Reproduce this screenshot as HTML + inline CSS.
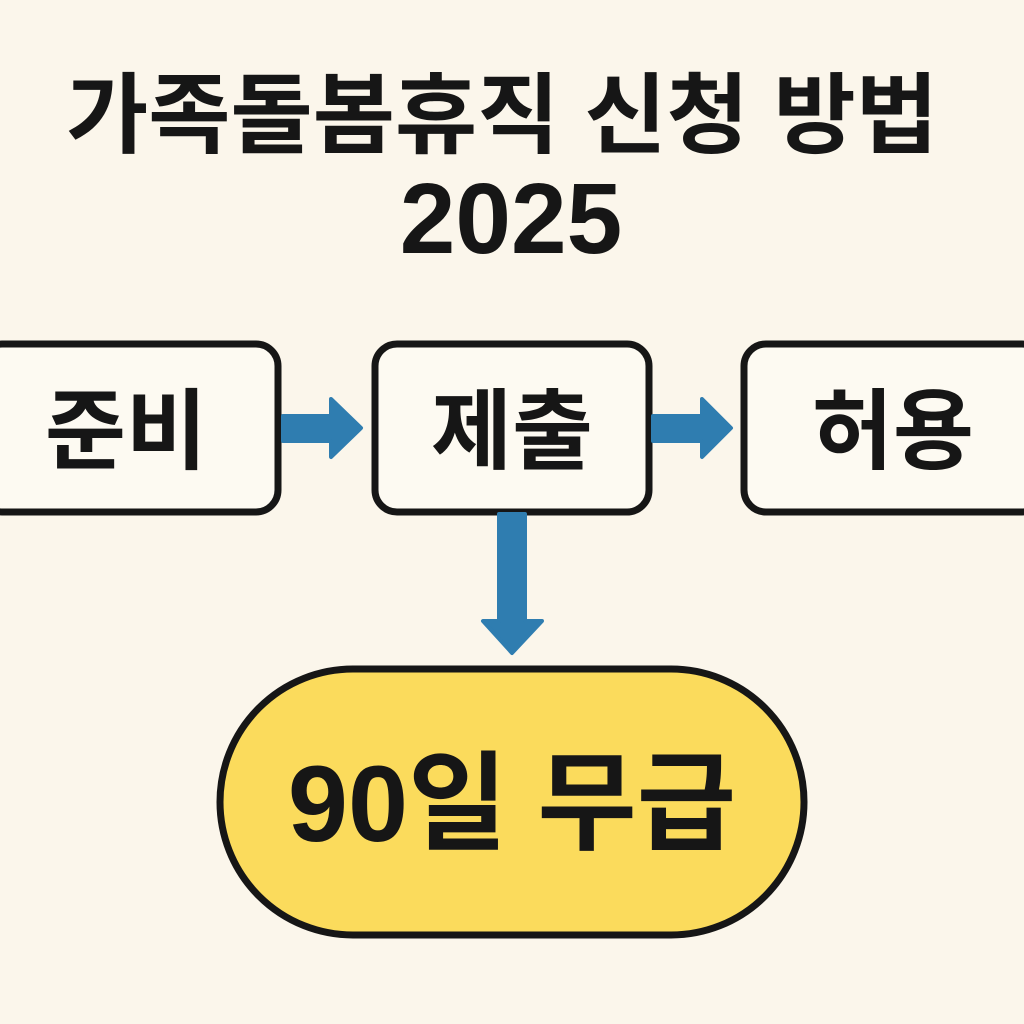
<!DOCTYPE html>
<html><head><meta charset="utf-8"><style>
html,body{margin:0;padding:0;background:#fbf6eb;}
svg{display:block}
text{font-family:"Liberation Sans","Noto Sans CJK KR",sans-serif;font-weight:bold;fill:#161616;text-anchor:middle}
</style></head><body>
<svg width="1024" height="1024" viewBox="0 0 1024 1024">
<rect width="1024" height="1024" fill="#fbf6eb"/>
<text x="502" y="146" font-size="88" textLength="872" lengthAdjust="spacingAndGlyphs">가족돌봄휴직 신청 방법</text>
<text x="511" y="253" font-size="100">2025</text>
<g fill="#fdfaf2" stroke="#161616" stroke-width="7">
<rect x="-20" y="344" width="298" height="168" rx="22"/>
<rect x="375" y="344" width="274" height="168" rx="22"/>
<rect x="744" y="344" width="300" height="168" rx="22"/>
</g>
<text x="126" y="462" font-size="88">준비</text>
<text x="512" y="462" font-size="88">제출</text>
<text x="893" y="462" font-size="88">허용</text>
<g fill="#2f7db0" stroke="#2f7db0" stroke-width="4" stroke-linejoin="round">
<polygon points="283,416 331,416 331,399 361,428 331,457 331,441 283,441"/>
<polygon points="653,416 702,416 702,399 731,428 702,457 702,441 653,441"/>
<polygon points="499,514 525,514 525,621 542,621 512,653 483,621 499,621"/>
</g>
<rect x="220" y="669" width="584" height="266" rx="133" fill="#fbdb5c" stroke="#161616" stroke-width="7"/>
<text x="512" y="841" font-size="108">90일 무급</text>
</svg>
</body></html>
